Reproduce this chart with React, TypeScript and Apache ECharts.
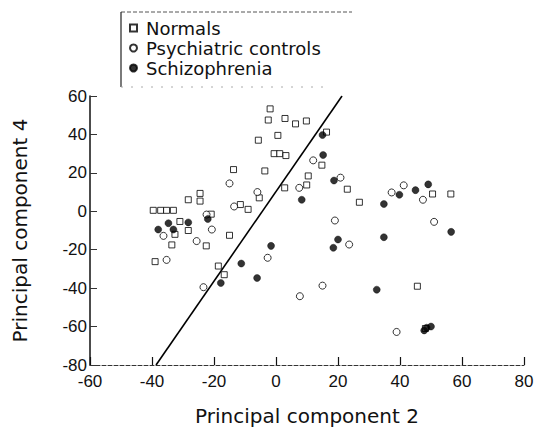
import React, { useEffect, useRef } from "react";
import * as echarts from "echarts";

const xTicks = [-60, -40, -20, 0, 20, 40, 60, 80];
const yTicks = [-80, -60, -40, -20, 0, 20, 40, 60];

const normals: number[][] = [
  [-1.9, 53.3], [-2.5, 47.5], [2.9, 48.3], [6.3, 45.5], [9.8, 47], [-5.7, 37], [0.6, 39.5],
  [-0.6, 30], [1.2, 30], [3.2, 29], [16.3, 41.2], [14.8, 24], [-13.7, 21.7], [-3.6, 21],
  [10.4, 18.4], [23, 11.5], [2.8, 12.2], [9.9, 13.7], [-5.4, 7], [-24.5, 9.3], [-24.5, 5.3],
  [-28.3, 6], [-11.5, 3.5], [-9, 1], [-39.6, 0.5], [-37.2, 0.5], [-35.3, 0.5], [-33.1, 0.5],
  [-20.9, -1.5], [-31, -5.3], [-28.3, -10], [-32.6, -12], [-15, -12.5], [-22.5, -18],
  [-33.6, -17.5], [-39, -26.2], [-18.6, -28.5], [-16.7, -33], [26.9, 4.7], [50.5, 9],
  [56.4, 9], [45.6, -39], [48.2, -61]
];

const psychiatric: number[][] = [
  [12, 26.5], [-15, 14.5], [20.8, 17.5], [7.5, 12.2], [-6, 10], [-13.5, 2.5], [-22.4, -1.7],
  [-20.7, -9.5], [-36.3, -12.8], [-25.6, -15.5], [-35.3, -25.3], [-2.7, -24.2], [-23.4, -39.5],
  [7.7, -44.2], [15, -38.7], [19, -4.8], [23.6, -17.3], [37.3, 9.8], [41.2, 13.5], [47.4, 6],
  [51, -5.5], [38.9, -62.8]
];

const schizophrenia: number[][] = [
  [15, 39.7], [15.2, 29.3], [18.7, 16], [8.3, 6], [-22, -4], [-34.7, -6.2], [-28.3, -5.8],
  [-38, -9.5], [-33.1, -9.5], [-1.6, -18], [-11.2, -27.2], [-6.1, -34.7], [-17.8, -37.3],
  [20, -14.7], [18.5, -19], [34.8, 3.8], [39.8, 8.6], [45, 11], [49.1, 14], [56.5, -10.7],
  [34.8, -13.5], [32.5, -40.8], [47.8, -62], [48.6, -60.6], [50, -60]
];

const fitLine: number[][] = [[-38.7, -80], [21.3, 60]];

const seriesNames = ["Normals", "Psychiatric controls", "Schizophrenia"];

export default function App() {
  const ref = useRef<HTMLDivElement>(null);
  useEffect(() => {
    if (!ref.current) return;
    const chart = echarts.init(ref.current, null, { renderer: "svg" });
    const font = "'DejaVu Sans', sans-serif";
    const tickFont = "'Liberation Sans', Arial, sans-serif";
    chart.setOption({
      animation: false,
      backgroundColor: "#fff",
      grid: { left: 90, right: 13, top: 96, bottom: 55 },
      legend: {
        orient: "vertical",
        left: 124,
        top: 14,
        itemWidth: 7,
        itemHeight: 7,
        itemGap: 2,
        data: [
          { name: seriesNames[0], icon: "rect" },
          { name: seriesNames[1], icon: "circle" },
          { name: seriesNames[2], icon: "circle" },
        ],
        textStyle: { fontFamily: font, fontSize: 18, color: "#111", padding: [0, 0, 0, 4] },
      },
      xAxis: {
        type: "value",
        min: xTicks[0],
        max: xTicks[xTicks.length - 1],
        interval: 20,
        splitLine: { show: false },
        axisLine: { onZero: false, lineStyle: { color: "#333", width: 1, type: [4, 2] } },
        axisTick: { inside: true, length: 8, lineStyle: { color: "#111", width: 1.2 } },
        axisLabel: { fontFamily: tickFont, fontSize: 17, color: "#111", margin: 8 },
        name: "Principal component 2",
        nameLocation: "middle",
        nameGap: 41,
        nameTextStyle: { fontFamily: font, fontSize: 20, color: "#111" },
      },
      yAxis: {
        type: "value",
        min: yTicks[0],
        max: yTicks[yTicks.length - 1],
        interval: 20,
        splitLine: { show: false },
        axisLine: { onZero: false, lineStyle: { color: "#111", width: 1.5 } },
        axisTick: { inside: true, length: 7, lineStyle: { color: "#333", width: 1 } },
        axisLabel: { fontFamily: tickFont, fontSize: 17, color: "#111", margin: 3 },
        name: "Principal component 4",
        nameLocation: "middle",
        nameRotate: 90,
        nameGap: 60,
        nameTextStyle: { fontFamily: font, fontSize: 20, color: "#111" },
      },
      graphic: [
        { type: "line", shape: { x1: 121, y1: 12, x2: 352, y2: 12 }, style: { stroke: "#555", lineWidth: 1, lineDash: [4, 2] } },
        { type: "line", shape: { x1: 121, y1: 12, x2: 121, y2: 87 }, style: { stroke: "#222", lineWidth: 1.2 } },
        { type: "line", shape: { x1: 121, y1: 87, x2: 330, y2: 87 }, style: { stroke: "#aaa", lineWidth: 1, lineDash: [2, 8] } },
      ],
      series: [
        {
          type: "line",
          data: fitLine,
          symbol: "none",
          lineStyle: { color: "#000", width: 1.6 },
          silent: true,
          z: 1,
        },
        {
          name: seriesNames[0],
          type: "scatter",
          data: normals,
          symbol: "rect",
          symbolSize: 6,
          itemStyle: { color: "#fff", borderColor: "#000", borderWidth: 1 },
          z: 3,
        },
        {
          name: seriesNames[1],
          type: "scatter",
          data: psychiatric,
          symbol: "circle",
          symbolSize: 7,
          itemStyle: { color: "#fff", borderColor: "#000", borderWidth: 1 },
          z: 3,
        },
        {
          name: seriesNames[2],
          type: "scatter",
          data: schizophrenia,
          symbol: "circle",
          symbolSize: 7,
          itemStyle: { color: "#000", borderColor: "#000", borderWidth: 0.5 },
          z: 4,
        },
      ],
    });
    return () => chart.dispose();
  }, []);
  return <div ref={ref} style={{ width: 537, height: 431, position: "absolute", left: 0, top: 0 }} />;
}
